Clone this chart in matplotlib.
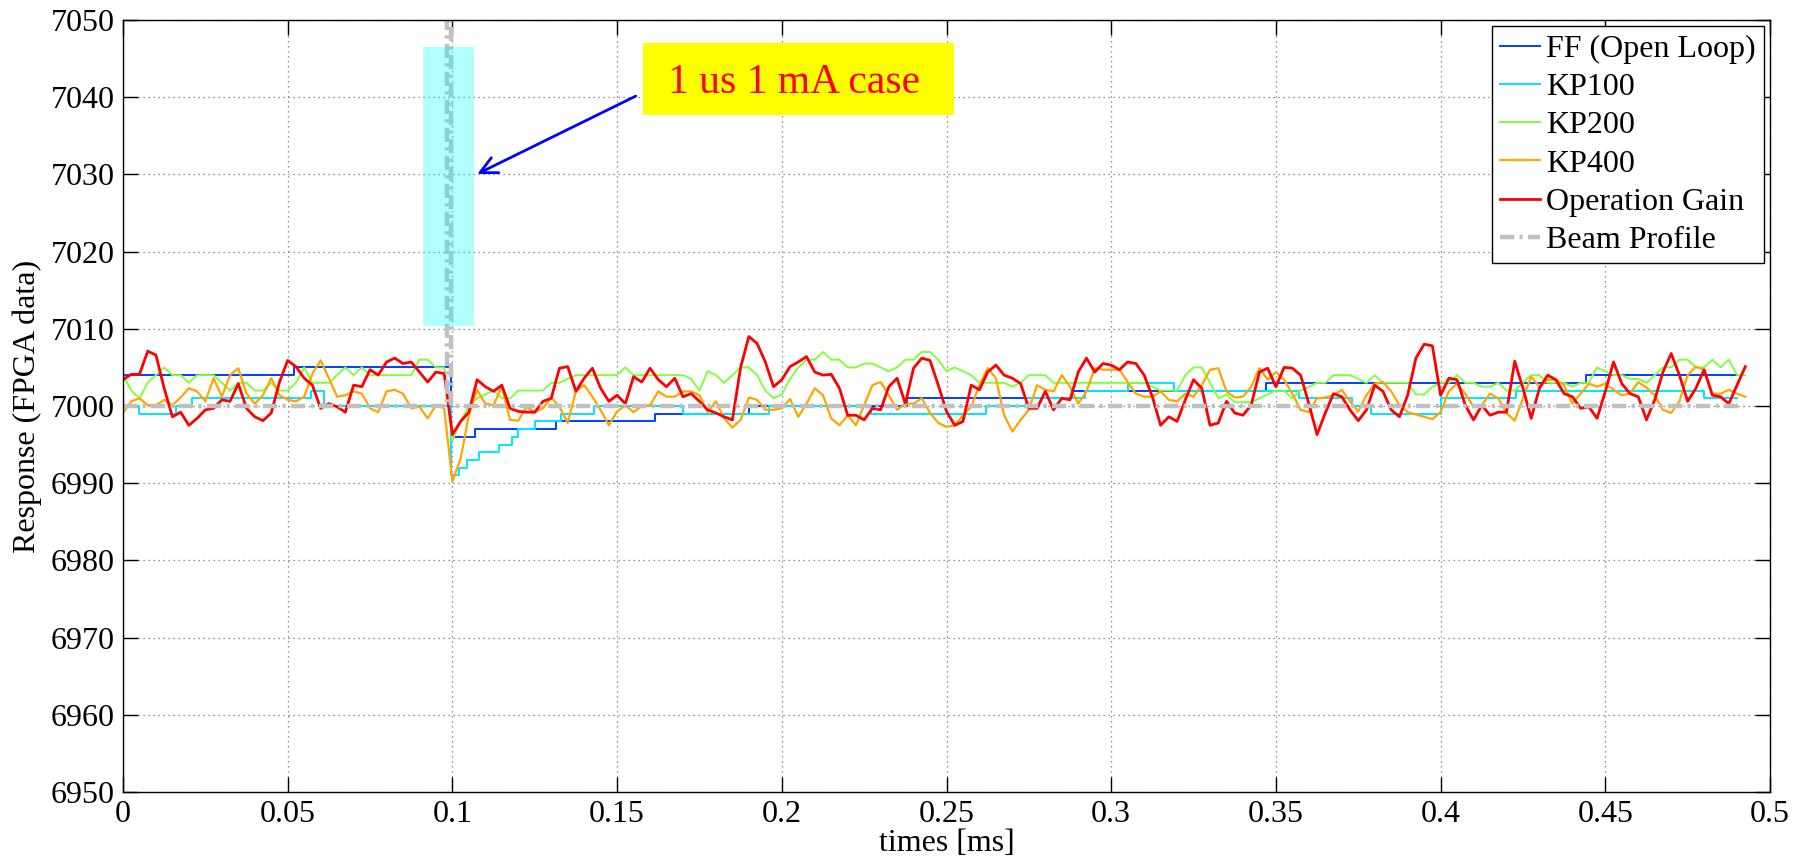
import numpy as np
import matplotlib
matplotlib.use("Agg")
import matplotlib.pyplot as plt
from matplotlib.patches import Rectangle

plt.rcParams['font.family'] = ['Liberation Serif', 'DejaVu Serif']

# sample times (ms) for the noisy traces, one value every 2.5 us
t_grid = np.arange(198) * 0.0025

op_gain = [
    7003.4, 7004.1, 7004.1, 7007.1, 7006.6, 7002.3, 6998.6, 6999.2, 6997.5, 6998.4,
    6999.5, 6999.7, 7000.8, 7000.6, 7002.9, 6999.7, 6998.6, 6998.1, 6999.1, 7003.1,
    7005.9, 7005.1, 7003.6, 7002.7, 6999.7, 7000.3, 6999.9, 6999.2, 7002.7, 7002.5,
    7004.7, 7004.0, 7005.7, 7006.2,
    7005.5, 7005.7, 7004.4, 7003.1, 7004.4, 7004.2, 6996.3, 6998.0, 6999.2, 7003.4,
    7002.5, 7001.9, 7002.7, 6999.7, 6999.3, 6999.2, 6999.2, 7000.6, 7001.0, 7004.9,
    7005.1, 7001.9, 7003.6, 7004.9, 7002.3, 7000.6, 7001.4, 7000.3, 7003.8, 7003.1,
    7004.9, 7003.4, 7002.5,
    7003.6, 7001.2, 7001.6, 7000.6, 6999.5, 6999.1, 6998.6, 6998.2, 7005.0, 7009.0,
    7008.1, 7005.7, 7002.5, 7003.4, 7005.1, 7005.7, 7006.4, 7004.4, 7004.0, 7004.1,
    7002.3, 6998.8, 6998.8, 6998.2, 6999.7, 6999.5, 7002.5, 7003.6, 7000.3, 7004.9,
    7006.2, 7005.9, 7002.7, 6999.3,
    6997.5, 6998.0, 7002.7, 7002.1, 7004.4, 7005.3, 7004.0, 7003.6, 7002.9, 6999.7,
    6999.7, 7001.9, 6999.5, 7001.0, 7000.8, 7004.4, 7006.2, 7004.4, 7005.5, 7005.3,
    7004.7, 7005.7, 7005.5, 7004.0, 7001.2, 6997.5, 6998.6, 6998.0, 7000.8, 7003.4,
    7002.3, 6997.5, 6997.8,
    7000.6, 6999.1, 6998.8, 7000.1, 7004.4, 7004.9, 7002.5, 7005.0, 7004.9, 7004.0,
    7000.3, 6996.3, 6999.1, 7001.6, 7001.2, 6999.5, 6998.1, 6999.5, 7002.7, 7001.9,
    6999.5, 6998.6, 7001.4, 7006.2, 7008.0, 7007.8, 7001.4, 7003.6, 7003.4, 7000.1,
    6998.2, 7000.1, 6998.8,
    6999.2, 6999.2, 7005.8, 7002.3, 6998.4, 7002.3, 7004.0, 7003.4, 7001.6, 7001.2,
    6999.7, 6999.9, 6998.4, 7001.9, 7005.7, 7002.9, 7001.6, 7001.2, 6998.2, 7000.8,
    7004.4, 7006.8, 7004.0, 7000.6, 7002.3, 7004.7, 7001.4, 7001.2, 7000.3, 7002.7,
    7005.1,
]

kp400 = [
    6999.1, 7000.6, 7001.0, 7000.1, 7000.1, 7000.8, 7000.1, 7001.1, 7002.3, 7001.9,
    7000.6, 7003.6, 7001.2, 7004.0, 7004.9, 7001.6, 7000.3, 7001.4, 7003.6, 7001.4,
    7000.8, 7000.6, 7001.2, 7004.2, 7005.9, 7003.6, 7001.2, 7001.4, 7001.9, 7001.6,
    6999.7, 6999.2, 7001.9, 7002.1,
    7001.6, 6999.7, 6999.9, 6998.4, 7000.1, 6999.7, 6990.2, 6993.2, 6998.8, 7002.1,
    7000.3, 7000.1, 7002.5, 6998.2, 6998.1, 6999.9, 6999.2, 6999.7, 7001.1, 6999.9,
    6997.8, 7001.9, 7002.7, 7001.2, 6999.5, 6997.5, 6999.3, 7000.1, 6999.2, 7000.0,
    7000.1, 7001.9, 7001.2,
    7001.2, 7001.9, 7001.9, 7001.4, 6999.2, 7000.6, 6998.4, 6997.2, 6998.2, 7001.1,
    7000.8, 6999.5, 6999.5, 6999.7, 7000.9, 6998.6, 7000.3, 7002.3, 7001.4, 6998.4,
    6997.5, 6998.8, 6997.5, 7000.1, 7002.7, 7003.1, 7001.4, 6999.5, 7000.3, 7000.3,
    7001.0, 6999.1, 6997.8, 6997.3,
    6997.5, 6998.8, 6999.9, 7002.7, 7004.9, 7003.6, 6998.8, 6996.7, 6998.2, 6999.5,
    7002.7, 7002.1, 7001.9, 7004.0, 7002.5, 7000.3, 7001.9, 7004.9, 7004.7, 7004.7,
    7004.7, 7003.1, 7001.6, 7001.2, 7001.2, 7001.9, 7000.8, 7000.6, 7001.6, 7001.2,
    7002.7, 7004.7, 7004.9,
    7001.9, 7001.1, 7001.2, 7002.5, 7004.9, 7003.4, 7004.4, 7003.4, 7001.6, 6999.5,
    6999.2, 7001.0, 7001.1, 7001.4, 7002.1, 7000.6, 6999.3, 7001.4, 7002.9, 7003.1,
    7001.9, 7000.1, 6999.2, 6998.9, 6998.6, 6998.3, 6999.2, 7001.9, 7002.9, 7001.6,
    6999.9, 7000.1, 7001.6,
    7001.0, 6999.1, 6998.1, 7001.0, 7003.8, 7002.5, 7003.4, 7003.4, 7002.7, 7000.3,
    7001.6, 7002.9, 7002.5, 7002.9, 7002.1, 7001.4, 7001.6, 7003.1, 7002.4, 7001.4,
    6999.5, 6999.1, 7000.6, 7004.0, 7005.1, 7004.7, 7001.6, 7001.6, 7002.1, 7001.6,
    7001.2,
]

kp200 = [
    7004, 7002, 7001, 7003, 7004, 7005, 7004, 7004, 7003, 7004,
    7004, 7004, 7003, 7002, 7003, 7003, 7002, 7002, 7003, 7002,
    7002, 7003, 7005, 7003, 7003, 7003, 7004, 7005, 7004, 7005,
    7004, 7004, 7004, 7004,
    7004, 7004, 7006, 7006, 7005, 7005, 6995.5, 6998, 7000, 7001,
    7001.5, 7002, 7001, 7001, 7002, 7002, 7002, 7002, 7003, 7003,
    7003.5, 7004, 7004, 7004, 7004, 7004, 7004, 7005, 7004, 7004,
    7004, 7004, 7004,
    7004, 7004, 7003.5, 7002, 7004.5, 7004, 7003, 7004, 7005, 7005,
    7004, 7002, 7001, 7001.5, 7003.5, 7005, 7006, 7006, 7007, 7006,
    7006, 7005, 7005, 7005.5, 7005.5, 7005, 7004.5, 7005, 7006, 7006,
    7007, 7007, 7006, 7004.5,
    7005, 7004.5, 7004, 7003, 7003, 7003, 7003, 7002.5, 7003, 7004,
    7004, 7004, 7003, 7003, 7003, 7003, 7003, 7003, 7003, 7003,
    7003, 7003, 7003, 7003, 7002.5, 7002, 7002, 7002, 7004, 7005,
    7005, 7003, 7001,
    7001.5, 7000.5, 7000.5, 7000.5, 7001, 7001.5, 7002, 7002, 7001, 7002,
    7002.5, 7003, 7003, 7004, 7004, 7004, 7003.5, 7003, 7004, 7003,
    7003, 7003, 7003, 7001.5, 7001.5, 7002.5, 7003, 7003, 7004, 7003,
    7003, 7002.5, 7002.5,
    7003, 7002, 7002, 7003, 7004, 7004, 7003, 7003, 7003, 7002.5,
    7003, 7003, 7005, 7004.5, 7004, 7004, 7003.5, 7003.5, 7003, 7004,
    7005, 7005, 7006, 7006, 7005, 7005, 7006, 7005, 7006, 7004,
    7004,
]

# step traces: time of each step (ms) and the level held from there
ff_t = [0, 0.052, 0.0995, 0.107, 0.1316, 0.1614, 0.190, 0.238, 0.288, 0.347, 0.444, 0.490]
ff_v = [7004, 7005, 6996, 6997, 6998, 6999, 7000, 7001, 7002, 7003, 7004, 7004]

kp100_t = [0, 0.005, 0.016, 0.021, 0.057, 0.061, 0.0995, 0.102, 0.1045, 0.108, 0.114,
           0.118, 0.120, 0.125, 0.133, 0.143, 0.170, 0.196, 0.227, 0.262, 0.274, 0.292,
           0.305, 0.319, 0.357, 0.373, 0.379, 0.400, 0.423, 0.480, 0.490]
kp100_v = [7000, 6999, 7000, 7001, 7002, 7000, 6991, 6992, 6993, 6994, 6995,
           6996, 6997, 6998, 6999, 7000, 6999, 7000, 6999, 7000, 7001, 7002,
           7003, 7002, 7001, 7000, 6999, 7001, 7002, 7001, 7001]

beam_t = [0, 0.0985, 0.0985, 0.0995, 0.0995, 0.492]
beam_v = [7000, 7000, 8000, 8000, 7000, 7000]

x_ticks = [0, 0.05, 0.1, 0.15, 0.2, 0.25, 0.3, 0.35, 0.4, 0.45, 0.5]
x_labels = ['0', '0.05', '0.1', '0.15', '0.2', '0.25', '0.3', '0.35', '0.4', '0.45', '0.5']
y_ticks = [6950, 6960, 6970, 6980, 6990, 7000, 7010, 7020, 7030, 7040, 7050]

fig = plt.figure(figsize=(18.05, 8.67), dpi=100)
ax = fig.add_axes([123 / 1805, 1 - 792 / 867, 1647 / 1805, 772 / 867])

ax.plot(ff_t, ff_v, drawstyle='steps-post', color='#0040ff', lw=1.4, label='FF (Open Loop)')
ax.plot(kp100_t, kp100_v, drawstyle='steps-post', color='#00e6ff', lw=1.4, label='KP100')
ax.plot(t_grid, kp200, color='#80ff40', lw=1.4, label='KP200')
ax.plot(t_grid, kp400, color='#ffa500', lw=1.6, label='KP400')
ax.plot(t_grid, op_gain, color='#ff0000', lw=2.0, label='Operation Gain')
ax.plot(beam_t, beam_v, color='#c0c0c0', lw=3.2, dashes=(3.2, 1.2, 0.7, 1.2), label='Beam Profile')

ax.add_patch(Rectangle((0.091, 7010.3), 0.0155, 36.2, facecolor='cyan', alpha=0.3,
                       edgecolor='none', zorder=5))
ax.add_patch(Rectangle((0.158, 7037.7), 0.0943, 9.3, facecolor='yellow',
                       edgecolor='none', zorder=5))
ax.text(0.2037, 7040.5, '1 us 1 mA case', color='red', fontsize=30,
        ha='center', va='baseline', zorder=6)
ax.annotate('', xy=(0.1068, 7029.9), xytext=(0.1564, 7040.3),
            arrowprops=dict(arrowstyle='->', color='blue', lw=2, mutation_scale=30),
            zorder=6)

ax.set_xlim(0, 0.5)
ax.set_ylim(6950, 7050)
ax.set_xticks(x_ticks)
ax.set_xticklabels(x_labels)
ax.set_yticks(y_ticks)
ax.set_yticklabels([str(v) for v in y_ticks])
ax.tick_params(direction='in', length=11, width=1, top=True, right=True,
               labelsize=23, pad=6)
ax.grid(True, color='#707070', linestyle=(0, (1, 3)), lw=0.9)
for s in ax.spines.values():
    s.set_linewidth(1.0)

ax.set_xlabel('times [ms]', fontsize=23, labelpad=0)
ax.set_ylabel('Response (FPGA data)', fontsize=23, labelpad=6)

leg = ax.legend(loc='upper right', fontsize=23, handlelength=1.25, handletextpad=0.2,
                labelspacing=0.28, borderpad=0.25, borderaxespad=0.2, fancybox=False,
                framealpha=1, edgecolor='black')
leg.get_frame().set_linewidth(1.0)

fig.savefig('out.png', dpi=100)
